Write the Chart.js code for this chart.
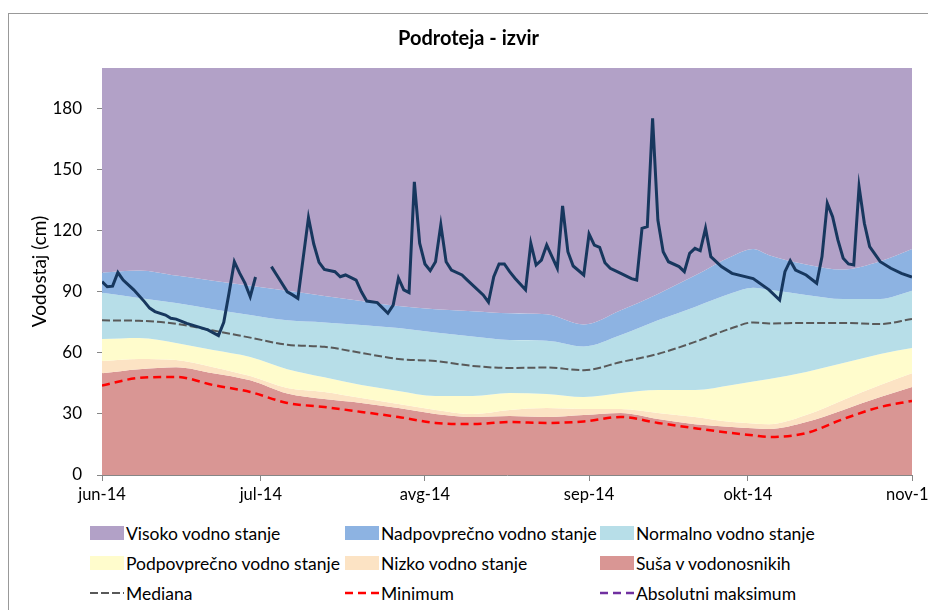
<!DOCTYPE html>
<html lang="sl">
<head>
  <meta charset="UTF-8" />
  <title>Podroteja - izvir</title>
  <script src="https://cdn.jsdelivr.net/npm/chart.js"></script>
  <style>
    html, body {
      margin: 0;
      padding: 0;
      width: 928px;
      height: 610px;
      overflow: hidden;
      background: #fff;
    }
    .frame {
      position: absolute;
      left: 8px;
      top: 13px;
      width: 1000px;
      height: 1000px;
      border: 1px solid #999;
    }
    #chartBox {
      position: absolute;
      left: 0;
      top: 0;
    }
    #legend {
      position: absolute;
      left: 0;
      top: 0;
      font-family: Lato, sans-serif;
      font-size: 17.5px;
      color: #000;
    }
    .item {
      position: absolute;
      height: 20px;
      display: flex;
      align-items: center;
      white-space: nowrap;
    }
    .item .sw {
      width: 34px;
      height: 14px;
      margin-right: 2px;
    }
  </style>
</head>
<body>
  <div class="frame"></div>
  <canvas id="chartBox" width="937" height="510"></canvas>
  <div id="legend"></div>

  <script>
    // x axis = days since 1 June 2014
    const monthDays = [0, 30, 61, 92, 122, 153];
    const monthLabels = ['jun-14', 'jul-14', 'avg-14', 'sep-14', 'okt-14', 'nov-14'];
    const yTicks = [0, 30, 60, 90, 120, 150, 180];

    // band limits, read roughly once a week
    const bandDays = [0, 7, 14, 21, 28, 35, 42, 49, 56, 63, 70, 77, 84, 91, 98, 105, 112, 119, 123, 126, 133, 140, 147, 153];
    const nadpTop  = [99.5, 100.5, 98, 95.5, 93, 90.5, 88, 85.5, 83, 81.5, 80.5, 79.5, 79, 74, 81, 89, 98, 107.5, 111, 108, 103.5, 101, 105, 111];
    const normTop  = [89.5, 87, 84.5, 81.5, 78.6, 76, 75, 73.7, 72.2, 70, 68, 66.3, 66, 63.2, 68.8, 76, 82.6, 89.4, 92, 91, 88.5, 86.5, 86.5, 90.5];
    const podTop   = [66.8, 67.3, 64.9, 61.4, 58, 52, 48, 44.2, 41.3, 38.8, 38.8, 40.3, 39.8, 38.3, 40.3, 41.8, 41.8, 44.2, 46, 47.2, 50.6, 55, 59.5, 62.4];
    const nizTop   = [56, 57, 56.5, 53, 48.6, 42.7, 40.8, 37.8, 34.9, 32, 30, 32, 32.9, 32.4, 32.4, 30.5, 28.5, 26, 25.3, 25, 29.5, 36.9, 44.2, 50];
    const susaTop  = [50, 52, 53, 50, 46.5, 40, 37.3, 35.4, 32.9, 30, 28.5, 29, 28.5, 29.5, 30.5, 27.5, 25, 23.6, 23, 22.6, 26, 32, 38.3, 43.2];
    const mediana  = [76, 75.8, 74.3, 71, 67.5, 64, 63, 60, 57, 56, 53.6, 52.6, 52.8, 51.5, 55.5, 59.5, 65.4, 72.2, 75, 74.5, 74.7, 74.7, 74.2, 76.7];
    const minimum  = [44, 47.7, 48.2, 44.2, 40.8, 35.4, 33.4, 31, 28.5, 25.6, 25, 26, 25.6, 26.3, 28.5, 25.6, 23, 20.6, 19.5, 18.7, 20.6, 27.5, 33.4, 36.4];
    const absMax   = []; // not visible inside the plotted range

    // measured water level (null = missing data)
    const levelDays = [0, 1, 2, 3, 4, 6, 8, 9, 10, 12, 13, 14, 16, 18, 20, 22, 23, 24, 25, 26, 27, 28, 29, 30,
      32, 33, 35, 36, 37, 39, 40, 41, 42, 44, 45, 46, 48, 49, 50, 52, 54, 55, 56, 57, 58, 59, 60, 61, 62, 63, 64, 65, 66,
      68, 69, 72, 73, 74, 75, 76, 77, 78, 80, 81, 82, 83, 84, 85, 86, 87, 88, 89, 91, 92, 93, 94, 95, 96, 98,
      100, 101, 102, 103, 104, 105, 106, 107, 109, 110, 111, 112, 113, 114, 115, 117, 119, 123, 126, 128, 129,
      130, 131, 133, 135, 136, 137, 138, 139, 140, 141, 142, 143, 144, 145, 147, 149, 151, 153];
    const levels = [95, 92.5, 92.8, 99.5, 95.8, 91, 85.2, 82, 80.3, 78.6, 77, 76.6, 74.5, 72.9, 71.3, 68.5, 75, 89.5, 104.8, 99.2, 94.3, 87.6, 97.3, null,
      102.4, 98.3, 90, 88.5, 86.8, 126.5, 113.5, 104.5, 101, 99.9, 97.4, 98.3, 95.8, 90, 85.5, 84.7, 79.5, 83.5, 96.7, 91, 89.6, 144.1, 113.9, 103.7, 100.4, 104.8, 122.9, 104.8, 100.7,
      98.3, 95.8, 88.5, 84.9, 97.4, 103.7, 103.7, 99.9, 96.7, 91, 113.9, 103.2, 105.6, 113, 107.3, 101.6, 132.2, 109.7, 102.7, 98.3, 118.4, 113, 111.9, 104.3, 101.6, 99.1,
      96.5, 95.8, 121.2, 122, 175.3, 125.3, 109.7, 104.8, 102.4, 99.9, 108.9, 111.4, 110.2, 121.2, 107.3, 102.4, 99.1, 96.5, 91, 86, 99.9,
      105.3, 100.7, 98.3, 94.2, 107.3, 133.5, 126.9, 115.5, 106.5, 103.7, 103.2, 141.7, 123.7, 112.2, 104.8, 101.6, 99.1, 97.3];

    const pts = (xs, ys) => xs.map((x, i) => ({ x: x, y: ys[i] }));

    function band(label, data, color, fill) {
      return {
        label: label,
        data: pts(bandDays, data),
        backgroundColor: color,
        borderWidth: 0,
        pointRadius: 0,
        fill: fill,
        cubicInterpolationMode: 'monotone'
      };
    }

    function dashed(label, data, color, width, dash) {
      return {
        label: label,
        data: pts(bandDays, data),
        borderColor: color,
        borderWidth: width,
        borderDash: dash,
        pointRadius: 0,
        fill: false,
        cubicInterpolationMode: 'monotone'
      };
    }

    const datasets = [
      band('Visoko vodno stanje', nadpTop, '#b2a1c7', 'end'),
      band('Nadpovprečno vodno stanje', nadpTop, '#8db3e2', 2),
      band('Normalno vodno stanje', normTop, '#b7dee8', 3),
      band('Podpovprečno vodno stanje', podTop, '#fffccc', 4),
      band('Nizko vodno stanje', nizTop, '#fce3c4', 5),
      band('Suša v vodonosnikih', susaTop, '#d99694', 'origin'),
      dashed('Mediana', mediana, '#595959', 2, [8, 3]),
      dashed('Minimum', minimum, '#ff0000', 2.5, [8, 5]),
      dashed('Absolutni maksimum', absMax, '#7030a0', 2.5, [8, 5]),
      {
        label: 'Vodostaj',
        inLegend: false,
        data: pts(levelDays, levels),
        borderColor: '#17375e',
        borderWidth: 3,
        pointRadius: 0,
        fill: false,
        spanGaps: false,
        tension: 0,
        order: -1
      }
    ];

    const font = 'Lato';

    const chart = new Chart(document.getElementById('chartBox'), {
      type: 'line',
      data: { datasets: datasets },
      options: {
        responsive: false,
        animation: false,
        layout: { padding: 0 },
        plugins: {
          legend: { display: false },
          tooltip: { enabled: false },
          filler: { drawTime: 'beforeDatasetsDraw' },
          title: {
            display: true,
            text: 'Podroteja - izvir',
            color: '#000',
            font: { family: font, size: 20, weight: 'bold' },
            padding: { top: 27, bottom: 17 }
          }
        },
        scales: {
          x: {
            type: 'linear',
            min: 0,
            max: 153,
            afterBuildTicks: s => { s.ticks = monthDays.map(v => ({ value: v })); },
            afterFit: s => { s.height = 35; s.paddingRight = 25; },
            ticks: {
              autoSkip: false,
              maxRotation: 0,
              color: '#000',
              padding: 4,
              font: { family: font, size: 16.5 },
              callback: v => monthLabels[monthDays.indexOf(v)]
            },
            grid: { drawOnChartArea: false, tickLength: 6, color: '#868686' },
            border: { color: '#868686' }
          },
          y: {
            min: 0,
            max: 200,
            afterBuildTicks: s => { s.ticks = yTicks.map(v => ({ value: v })); },
            afterFit: s => { s.width = 102; },
            ticks: {
              color: '#000',
              padding: 15,
              font: { family: font, size: 17 }
            },
            title: {
              display: true,
              text: 'Vodostaj (cm)',
              color: '#000',
              font: { family: font, size: 19 },
              padding: { top: 28.6, bottom: 0 }
            },
            grid: { drawOnChartArea: false, tickLength: 5, color: '#868686' },
            border: { color: '#868686' }
          }
        }
      }
    });

    // legend in three fixed columns, like the original
    const colX = [90, 345, 600];
    const rowY = [533, 563, 593];
    const legendEl = document.getElementById('legend');
    chart.data.datasets.filter(ds => ds.inLegend !== false).forEach((ds, i) => {
      const item = document.createElement('div');
      item.className = 'item';
      item.style.left = colX[i % 3] + 'px';
      item.style.top = (rowY[Math.floor(i / 3)] - 10) + 'px';
      let sw;
      if (ds.borderDash) {
        sw = `<svg class="sw" width="34" height="14"><line x1="0" y1="7" x2="34" y2="7" stroke="${ds.borderColor}" stroke-width="${ds.borderWidth}" stroke-dasharray="${ds.borderDash.join(',')}"/></svg>`;
      } else {
        sw = `<div class="sw" style="background:${ds.backgroundColor}"></div>`;
      }
      item.innerHTML = sw + `<span>${ds.label}</span>`;
      legendEl.appendChild(item);
    });
  </script>
</body>
</html>
